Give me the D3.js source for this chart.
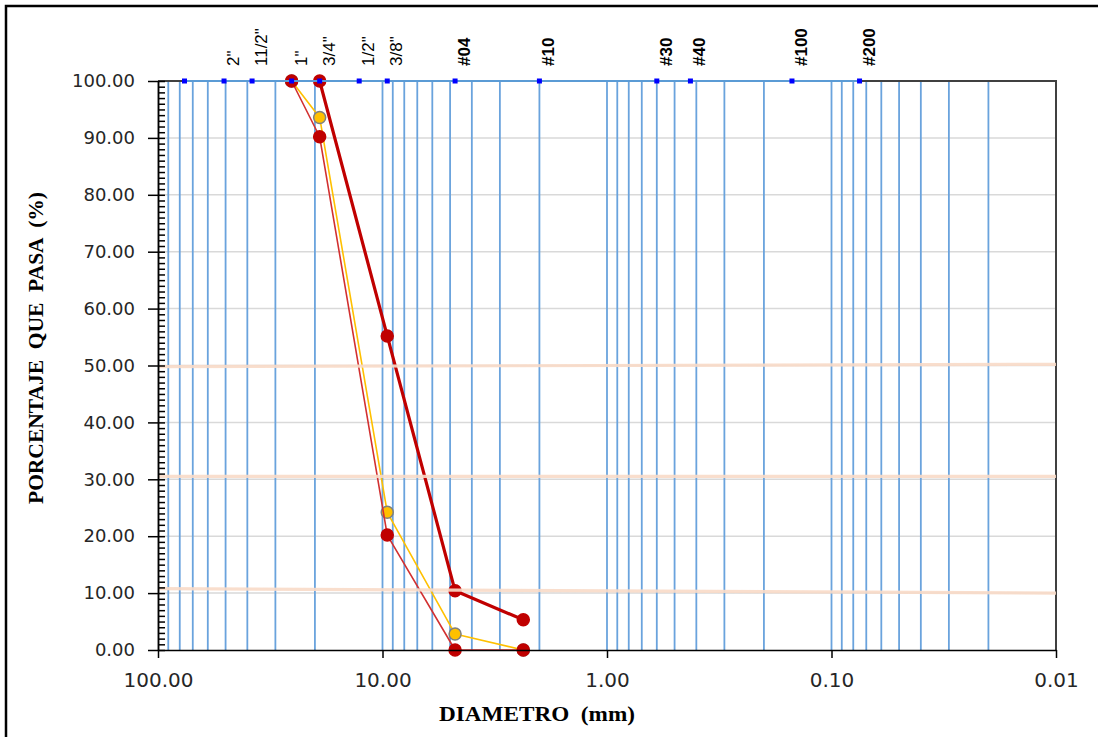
<!DOCTYPE html>
<html>
<head>
<meta charset="utf-8">
<script src="https://cdn.jsdelivr.net/npm/d3@7"></script>
<style>
  body { margin: 0; background: #fff; }
  svg { display: block; }
</style>
</head>
<body>
<svg id="chart" width="1098" height="737"></svg>
<script>
// sieve openings (mm) shown as blue marks along the top edge, and their names
const sieveSizes = [76.2, 50.8, 38.1, 25.4, 19.05, 12.7, 9.525, 4.75, 2.0, 0.6, 0.425, 0.15, 0.075];
const sieveNames = ["", '2"', '11/2"', '1"', '3/4"', '1/2"', '3/8"', "#04", "#10", "#30", "#40", "#100", "#200"];

// grading curves, % passing for each sieve size
const curveSizes   = [25.4, 19.05, 9.525, 4.75, 2.36];
const passYellow   = [100, 93.6, 24.2, 2.8, 0];
const passRedThin  = [100, 90.2, 20.2, 0, 0];
const passRedThick = [null, 100, 55.2, 10.4, 5.3];

// pale reference lines running across the chart (value at left end, right end)
const refEnds   = [100, 0.01];
const refLine50 = [49.8, 50.2];
const refLine30 = [30.5, 30.5];
const refLine10 = [10.8, 10.0];

// axis ticks
const xTickValues = [100, 10, 1, 0.1, 0.01];
const yTickValues = [0, 10, 20, 30, 40, 50, 60, 70, 80, 90, 100];

const svg = d3.select("#chart");

const x = d3.scaleLog().domain([100, 0.01]).range([158, 1056]);
const y = d3.scaleLinear().domain([0, 100]).range([650, 81]);

// outer chart frame
svg.append("rect")
  .attr("x", 6).attr("y", 6)
  .attr("width", 1200).attr("height", 800)
  .attr("fill", "#fff")
  .attr("stroke", "#000")
  .attr("stroke-width", 2.5);

// horizontal gray gridlines
svg.append("g")
  .selectAll("line")
  .data(yTickValues.filter(d => d > 0 && d < 100))
  .join("line")
    .attr("x1", x(100)).attr("x2", x(0.01))
    .attr("y1", d => y(d)).attr("y2", d => y(d))
    .attr("stroke", "#d9d9d9")
    .attr("stroke-width", 1.5);

// vertical blue log gridlines
svg.append("g")
  .selectAll("line")
  .data(x.ticks().filter(d => d < 99 && d > 0.011))
  .join("line")
    .attr("x1", d => x(d)).attr("x2", d => x(d))
    .attr("y1", y(100)).attr("y2", y(0))
    .attr("stroke", "#6aa3dd")
    .attr("stroke-width", 1.8);

// plot border (top and right)
svg.append("path")
  .attr("d", `M${x(100)},${y(100)}H${x(0.01)}V${y(0)}`)
  .attr("fill", "none")
  .attr("stroke", "#404040")
  .attr("stroke-width", 2);

// grading curves
const curves = [
  { values: passYellow,   stroke: "#ffc000", width: 1.6, fill: "#ffc000", outline: "#7f7f7f", r: 6 },
  { values: passRedThin,  stroke: "#d23030", width: 1.6, fill: "#c00000", outline: "#c00000", r: 6 },
  { values: passRedThick, stroke: "#c00000", width: 3.2, fill: "#c00000", outline: "#c00000", r: 6 }
];

const line = d3.line()
  .defined(d => d.p != null)
  .x(d => x(d.d))
  .y(d => y(d.p));

curves.forEach(c => {
  const pts = curveSizes.map((d, i) => ({ d: d, p: c.values[i] }));
  const g = svg.append("g");
  g.append("path")
    .datum(pts)
    .attr("d", line)
    .attr("fill", "none")
    .attr("stroke", c.stroke)
    .attr("stroke-width", c.width)
    .attr("stroke-linejoin", "round");
  g.selectAll("circle")
    .data(pts.filter(d => d.p != null))
    .join("circle")
      .attr("cx", d => x(d.d))
      .attr("cy", d => y(d.p))
      .attr("r", c.r)
      .attr("fill", c.fill)
      .attr("stroke", c.outline)
      .attr("stroke-width", 1.5);
});

// sieve series along the top
const sieves = sieveSizes.map((d, i) => ({ d: d, p: 100, name: sieveNames[i] }));
svg.append("path")
  .datum(sieves)
  .attr("d", line)
  .attr("fill", "none")
  .attr("stroke", "#5b9bd5")
  .attr("stroke-width", 2);

svg.append("g")
  .selectAll("rect")
  .data(sieves)
  .join("rect")
    .attr("x", d => x(d.d) - 2.5)
    .attr("y", d => y(d.p) - 2.5)
    .attr("width", 5).attr("height", 5)
    .attr("fill", "#0000ff");

svg.append("g")
  .selectAll("text")
  .data(sieves.filter(d => d.name))
  .join("text")
    .attr("transform", d => `translate(${x(d.d) + 15},66) rotate(-90)`)
    .attr("font-family", "'Liberation Sans', Arial, sans-serif")
    .attr("font-size", 17)
    .attr("font-weight", d => d.name.startsWith("#") ? "bold" : "normal")
    .attr("fill", "#000")
    .text(d => d.name);

// pale reference lines
[refLine50, refLine30, refLine10].forEach(v => {
  svg.append("path")
    .datum(refEnds.map((d, i) => ({ d: d, p: v[i] })))
    .attr("d", line)
    .attr("fill", "none")
    .attr("stroke", "#f8dac8")
    .attr("stroke-width", 3.2)
    .attr("stroke-opacity", 0.9);
});

// y axis: major ticks with labels, minor ticks inside
const yAxis = svg.append("g")
  .attr("transform", `translate(${x(100)},0)`)
  .call(d3.axisLeft(y).tickValues(yTickValues).tickSize(10).tickSizeOuter(0)
    .tickPadding(13).tickFormat(d3.format(".2f")));

svg.append("g")
  .attr("transform", `translate(${x(100)},0)`)
  .call(d3.axisRight(y).tickValues(d3.range(0, 101, 1)).tickSize(7).tickSizeOuter(0).tickFormat(""));

yAxis.selectAll("text")
  .attr("font-family", "'DejaVu Sans', Verdana, sans-serif")
  .attr("font-size", 18)
  .attr("fill", "#262626");

// x axis
const xAxis = svg.append("g")
  .attr("transform", `translate(0,${y(0)})`)
  .call(d3.axisBottom(x).tickValues(xTickValues).tickSize(8).tickSizeOuter(0)
    .tickPadding(15).tickFormat(d3.format(".2f")));

xAxis.selectAll("text")
  .attr("font-family", "'DejaVu Sans', Verdana, sans-serif")
  .attr("font-size", 20)
  .attr("fill", "#262626");

svg.selectAll(".domain, .tick line")
  .attr("stroke", "#000")
  .attr("stroke-width", 1.5);

// axis titles
svg.append("text")
  .attr("transform", "translate(43,348) rotate(-90)")
  .attr("text-anchor", "middle")
  .attr("font-family", "'Liberation Serif', 'Times New Roman', serif")
  .attr("font-weight", "bold")
  .attr("font-size", 22)
  .attr("textLength", 312)
  .attr("lengthAdjust", "spacingAndGlyphs")
  .style("white-space", "pre")
  .text("PORCENTAJE  QUE  PASA  (%)");

svg.append("text")
  .attr("x", 537).attr("y", 721)
  .attr("text-anchor", "middle")
  .attr("font-family", "'Liberation Serif', 'Times New Roman', serif")
  .attr("font-weight", "bold")
  .attr("font-size", 22)
  .attr("textLength", 196)
  .attr("lengthAdjust", "spacingAndGlyphs")
  .style("white-space", "pre")
  .text("DIAMETRO  (mm)");
</script>
</body>
</html>
